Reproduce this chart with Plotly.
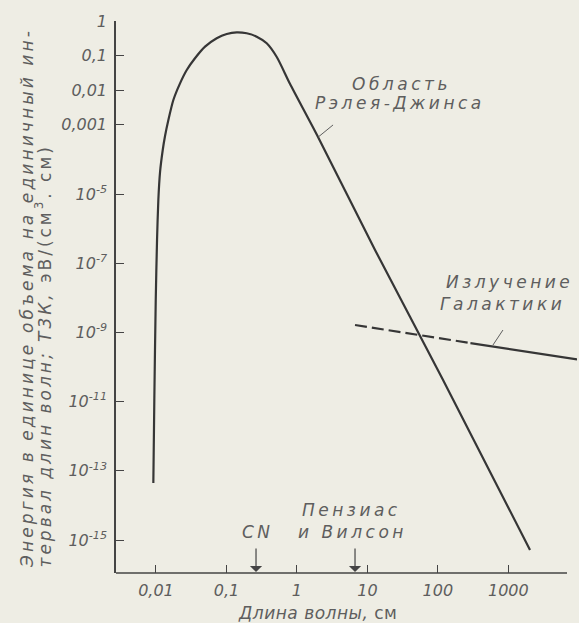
import numpy as np
import plotly.graph_objects as go

# ---- data ----
# Planck spectrum of the relic radiation (energy per unit volume per unit wavelength)
wavelength_cm = [0.00918, 0.00948, 0.00993, 0.01036, 0.01081, 0.01143, 0.01248, 0.01345,
                 0.0150, 0.01766, 0.02196, 0.02735, 0.0358, 0.0497, 0.0728, 0.101,
                 0.140, 0.194, 0.269, 0.373, 0.518, 0.800, 1.93, 12.85, 118.6, 2033]
energy = [4.43e-14, 1.11e-11, 8.63e-9, 4.69e-7, 6.71e-6, 4.32e-5, 1.87e-4, 4.75e-4,
          1.38e-3, 5.21e-3, 0.0158, 0.0384, 0.0836, 0.181, 0.316, 0.421,
          0.471, 0.441, 0.352, 0.227, 0.0911, 0.0151, 5.07e-4, 2.41e-7, 4.21e-11, 5.14e-16]

# Galactic radiation (dashed extrapolation + solid part)
galaxy_dashed_lam = [6.68, 286]
galaxy_dashed_u = [1.64e-9, 4.94e-10]
galaxy_solid_lam = [290, 9440]
galaxy_solid_u = [4.90e-10, 1.67e-10]

# leader lines of the labels
rj_leader_lam = [3.26, 2.0]
rj_leader_u = [9.9e-4, 4.4e-4]
gal_leader_lam = [839, 605]
gal_leader_u = [1.17e-9, 4.3e-10]

# measurement markers (wavelength, cm)
cn_lam = 0.263
pw_lam = 6.68

x_tickvals = [0.01, 0.1, 1, 10, 100, 1000]
x_ticktext = ["0,01", "0,1", "1", "10", "100", "1000"]
y_tickvals = [1, 0.1, 0.01, 0.001, 1e-5, 1e-7, 1e-9, 1e-11, 1e-13, 1e-15]
y_ticktext = ["1", "0,1", "0,01", "0,001", "10<sup>-5</sup>", "10<sup>-7</sup>",
              "10<sup>-9</sup>", "10<sup>-11</sup>", "10<sup>-13</sup>", "10<sup>-15</sup>"]

# ---- style ----
BG = "#eeede4"
LINE = "#363636"
TXT = "#5e5e5e"
FONT = "DejaVu Sans"
LS = 3.5


def sp(t, ls=LS):
    return f'<span style="letter-spacing:{ls}px">{t}</span>'


fig = go.Figure()
fig.add_trace(go.Scatter(x=wavelength_cm, y=energy, mode="lines",
                         line=dict(color=LINE, width=2.2, shape="spline", smoothing=0.7),
                         hoverinfo="skip"))
fig.add_trace(go.Scatter(x=galaxy_dashed_lam, y=galaxy_dashed_u, mode="lines",
                         line=dict(color=LINE, width=2.2, dash="12px,5px"), hoverinfo="skip"))
fig.add_trace(go.Scatter(x=galaxy_solid_lam, y=galaxy_solid_u, mode="lines",
                         line=dict(color=LINE, width=2.2), hoverinfo="skip"))
for lx, ly in [(rj_leader_lam, rj_leader_u), (gal_leader_lam, gal_leader_u)]:
    fig.add_trace(go.Scatter(x=lx, y=ly, mode="lines", line=dict(color=TXT, width=1),
                             hoverinfo="skip"))

W, H = 579, 623
ML, MR, MT, MB = 116, 2, 21, 50
PX_DEC_X = 70.47
PX_DEC_Y = 34.6
xr0 = -2.567
xr1 = xr0 + (W - ML - MR) / PX_DEC_X
yr1 = 0.0
yr0 = yr1 - (H - MT - MB) / PX_DEC_Y

tfont = dict(family=FONT, size=16, color=TXT, style="italic")

fig.update_layout(
    width=W, height=H, margin=dict(l=ML, r=MR, t=MT, b=MB),
    paper_bgcolor=BG, plot_bgcolor=BG, showlegend=False,
    xaxis=dict(type="log", range=[xr0, xr1], showgrid=False, zeroline=False,
               showline=False, ticks="inside", ticklen=8, tickwidth=1.2, tickcolor="#444",
               tickvals=x_tickvals, ticktext=x_ticktext, tickfont=tfont,
               ticklabelstandoff=6),
    yaxis=dict(type="log", range=[yr0, yr1], showgrid=False, zeroline=False,
               showline=True, linecolor="#444", linewidth=1.5,
               ticks="inside", ticklen=8, tickwidth=1.2, tickcolor="#444",
               tickvals=y_tickvals, ticktext=y_ticktext, tickfont=tfont,
               ticklabelstandoff=4),
)

# x axis line (ends before the right edge as in the original)
fig.add_shape(type="line", xref="paper", yref="paper", x0=0, x1=(567 - ML) / (W - ML - MR),
              y0=0, y1=0, line=dict(color="#444", width=1.5))

afont = dict(family=FONT, size=17, color=TXT, style="italic")

labels = [
    ("Область", 1.478, -1.821),
    ("Рэлея-Джинса", 1.464, -2.370),
    ("Излучение", 3.010, -7.543),
    ("Галактики", 2.911, -8.179),
    ("Пензиас", 0.768, -14.133),
    ("и Вилсон", 0.782, -14.769),
    ("CN", -0.559, -14.769),
]
for t, lx, ly in labels:
    fig.add_annotation(x=lx, y=ly, xref="x", yref="y", text=sp(t), showarrow=False,
                       font=afont, xanchor="center", yanchor="middle")

# arrows pointing at the wavelength axis
y_head = -(572 - MT) / PX_DEC_Y
for lam in [cn_lam, pw_lam]:
    fig.add_annotation(x=np.log10(lam), y=y_head, xref="x", yref="y", text="",
                       showarrow=True, ax=0, ay=-25, arrowhead=1, arrowsize=1.7,
                       arrowwidth=1.2, arrowcolor="#444")

# axis titles
pw = W - ML - MR
ph = H - MT - MB
fig.add_annotation(xref="paper", yref="paper", x=(317 - ML) / pw, y=-(613 - (H - MB)) / ph,
                   text=sp("Длина волны, ", 0.5) + sp('<span style="font-style:normal">см</span>', 0.5),
                   showarrow=False, font=afont, xanchor="center", yanchor="middle")
fig.add_annotation(xref="paper", yref="paper", x=(27 - ML) / pw, y=((H - MB) - 570) / ph,
                   text=sp("Энергия в единице объема на единичный ин-", 3.1), textangle=-90,
                   showarrow=False, font=afont, xanchor="center", yanchor="bottom")
fig.add_annotation(xref="paper", yref="paper", x=(43 - ML) / pw, y=((H - MB) - 570) / ph,
                   text=sp("тервал длин волн; Т3К, ", 3.0) +
                   sp('<span style="font-style:normal">эВ/(см<sup>3</sup>. см)</span>', 3.0),
                   textangle=-90, showarrow=False, font=afont, xanchor="center",
                   yanchor="bottom")

fig.write_html("out.html", config={"displayModeBar": False},
               post_script="document.body.style.margin='0px';"
                           "document.body.style.background='#eeede4';")
